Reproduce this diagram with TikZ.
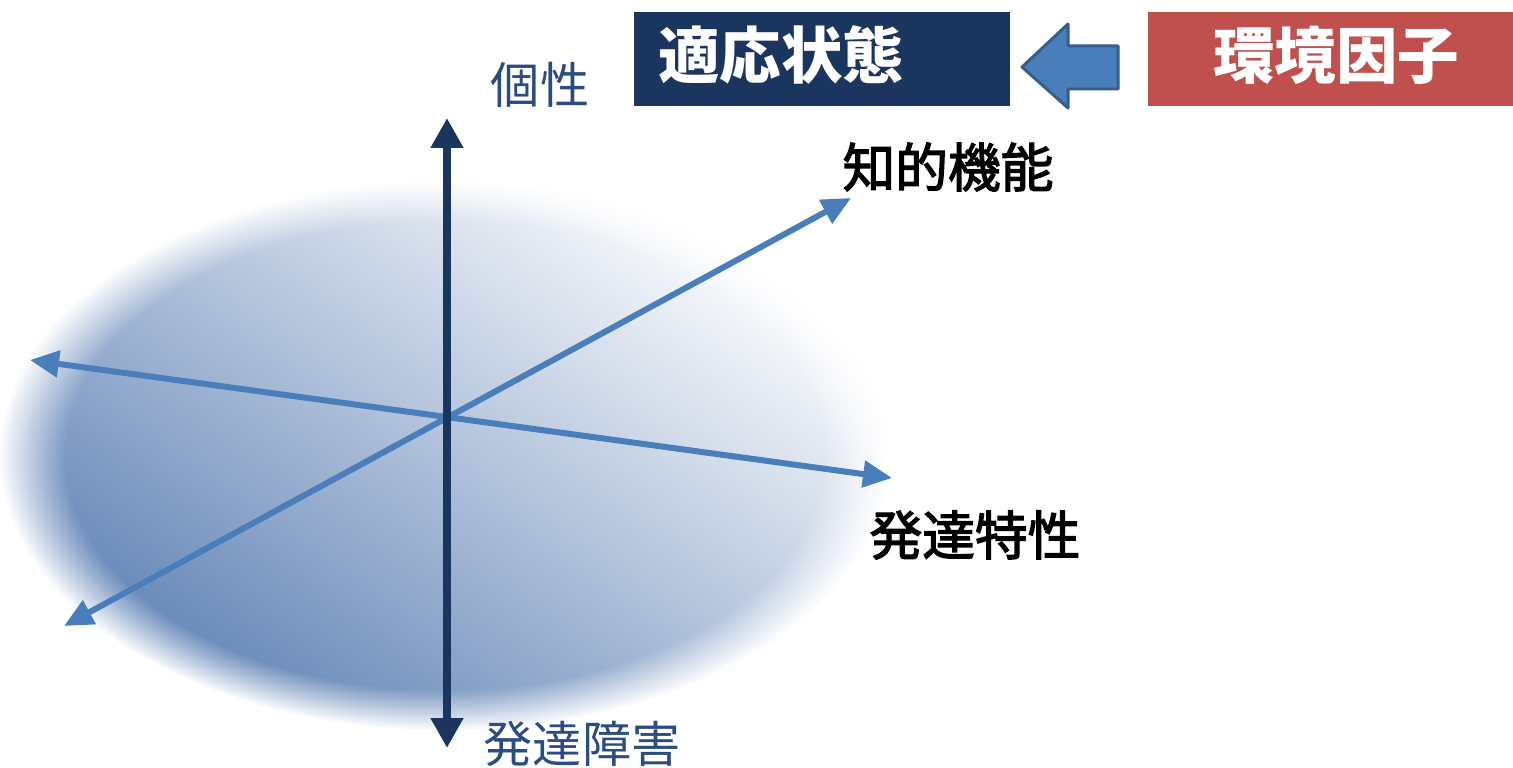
\documentclass[tikz,border=0pt]{standalone}
\usepackage{fontspec}
\newfontfamily\cjk{Noto Sans CJK JP}
\newfontfamily\cjkfb[FakeBold=2.5]{Noto Sans CJK JP}
\usetikzlibrary{arrows.meta,fadings}
\definecolor{navy}{HTML}{1B365E}
\definecolor{steel}{HTML}{4A7EBB}
\definecolor{steeldark}{HTML}{385D8A}
\definecolor{redbox}{HTML}{C0504D}
\definecolor{labelblue}{HTML}{2B4C80}
\definecolor{ellblue}{HTML}{5F82B5}
\tikzset{
  px/.style={x=0.02cm,y=-0.02cm},
  axisv/.style={draw=navy,line width=0.16cm,arrows={Triangle[width=0.62cm,length=0.6cm]-Triangle[width=0.62cm,length=0.6cm]}},
  axisd/.style={draw=steel,line width=0.12cm,arrows={Triangle[width=0.52cm,length=0.58cm]-Triangle[width=0.52cm,length=0.58cm]}},
  lbl/.style={font=\cjk\fontsize{28}{30}\selectfont,text=labelblue,inner sep=0},
  lblk/.style={font=\cjkfb\fontsize{30}{32}\selectfont,text=black,inner sep=0},
  boxtext/.style={font=\cjk\bfseries\fontsize{35}{37}\selectfont,text=white,inner sep=0}
}
\begin{document}
\begin{tikzpicture}[px]
\useasboundingbox (0,0) rectangle (1513,767);
% soft ellipse
\shade[top color=white,bottom color=ellblue,shading angle=-35,
  path fading=circle with fuzzy edge 15 percent]
  (445,455) ellipse [x radius=445, y radius=275];
% boxes
\fill[navy] (634,12) rectangle (1010,106);
\node[boxtext] (adapt) at (781,55) {適応状態};
\fill[redbox] (1148,12) rectangle (1513,106);
\node[boxtext] (env) at (1336,55) {環境因子};
% block arrow
\filldraw[fill=steel,draw=steeldark,line width=0.06cm,line join=round]
  (1022,67) -- (1068,24) -- (1068,46) -- (1118,46) -- (1118,89) -- (1068,89) -- (1068,108) -- cycle;
% axes
\coordinate (vtop) at (447,118);
\coordinate (vbot) at (447,748);
\coordinate (hl) at (30,360);
\coordinate (hr) at (892,478);
\coordinate (dl) at (64,626);
\coordinate (dr) at (851,198);
\draw[axisd] (hl) -- (hr);
\draw[axisd] (dl) -- (dr);
\draw[axisv] (vbot) -- (vtop);
% labels
\node[lbl] (kosei) at (540,85) {個性};
\node[lbl] (shogai) at (582,744) {発達障害};
\node[lblk] (chiteki) at (948,167) {知的機能};
\node[lblk] (tokusei) at (975,535) {発達特性};
\end{tikzpicture}
\end{document}
